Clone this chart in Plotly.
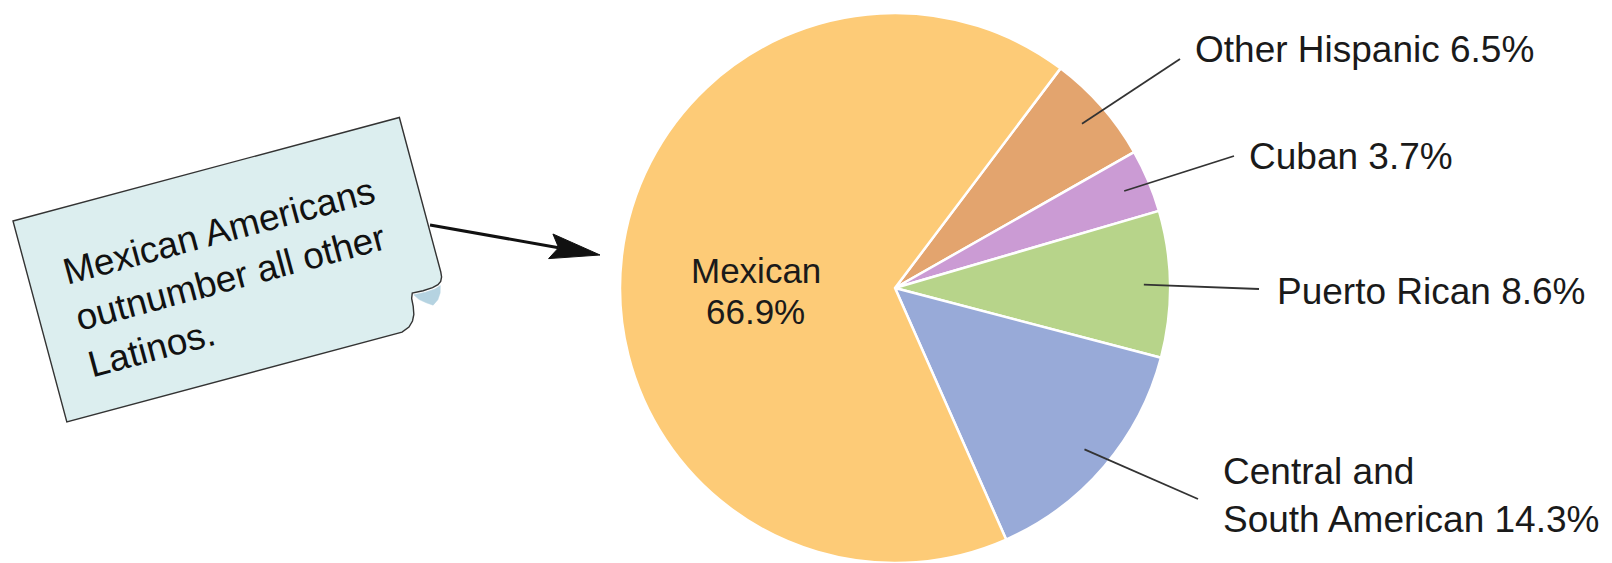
import math
import plotly.graph_objects as go

# ---- data ----
categories = ["Other Hispanic", "Cuban", "Puerto Rican", "Central and South American", "Mexican"]
values = [6.5, 3.7, 8.6, 14.3, 66.9]
label_texts = ["Other Hispanic", "Cuban", "Puerto Rican", "Central and<br>South American", "Mexican"]
colors = ["#E3A46E", "#CB9BD4", "#B7D48A", "#98AAD8", "#FDCB77"]
callout_lines = ["Mexican Americans", "outnumber all other", "Latinos."]

W, H = 1612, 563
TOP = 13
R = (H - TOP) / 2
cx, cy = 895, TOP + R
rotation = 37
FONT = "Liberation Sans, Arial, Helvetica, sans-serif"
FS = 37

fig = go.Figure(go.Pie(
    labels=categories, values=values, sort=False, direction="clockwise",
    rotation=rotation,
    marker=dict(colors=colors, line=dict(color="white", width=2.5)),
    textinfo="none", hoverinfo="label+percent", showlegend=False,
    domain=dict(x=[(cx - R) / W, (cx + R) / W], y=[0, 1 - TOP / H]),
))


def px(x):
    return x / W


def py(y):
    return 1 - y / H


def path(points):
    return "M " + " L ".join(f"{px(x):.5f},{py(y):.5f}" for x, y in points) + " Z"


# outside label positions (pixel): text left x, text center y, leader end x, leader end y
outer = {
    0: (1193, 49, 1180, 59),
    1: (1247, 156, 1234, 156),
    2: (1275, 291, 1259, 289),
    3: (1221, 495, 1198, 499),
}

annotations = []
shapes = []
total = sum(values)
cum = 0.0
for i, v in enumerate(values):
    mid = rotation + 360 * (cum + v / 2) / total
    cum += v
    a = math.radians(mid)
    if i in outer:
        tx, ty, ex, ey = outer[i]
        sx = cx + 0.905 * R * math.sin(a)
        sy = cy - 0.905 * R * math.cos(a)
        shapes.append(dict(type="line", xref="paper", yref="paper",
                           x0=px(sx), y0=py(sy), x1=px(ex), y1=py(ey),
                           line=dict(color="#333333", width=1.8)))
        annotations.append(dict(text=f"{label_texts[i]} {v}%", x=px(tx), y=py(ty),
                                xref="paper", yref="paper", xanchor="left", yanchor="middle",
                                showarrow=False, align="left",
                                font=dict(size=FS, family=FONT, color="#1a1a1a")))
    else:
        for txt, yy in ((label_texts[i], 271), (f"{v}%", 311)):
            annotations.append(dict(text=txt, x=px(755.5), y=py(yy),
                                    xref="paper", yref="paper", xanchor="center", yanchor="middle",
                                    showarrow=False,
                                    font=dict(size=35, family=FONT, color="#1a1a1a")))

# ---- callout note (rotated sticky note with curled corner) ----
ang = math.radians(15)
TLx, TLy = 13, 221
tvec = (math.cos(ang), -math.sin(ang))
dvec = (math.sin(ang), math.cos(ang))


def loc(u, v):
    return (TLx + u * tvec[0] + v * dvec[0], TLy + u * tvec[1] + v * dvec[1])


box_local = [(0, 0), (400, 0), (400, 160), (399.5, 165), (397.5, 169), (394, 171.5),
             (388, 173), (378, 173.5), (367, 173), (365, 178), (364.5, 186),
             (363, 194), (360, 200), (355, 205), (347, 208), (0, 208)]
fold_local = [(368, 175), (380, 175.5), (390, 175), (396, 173), (394, 180),
              (390, 186), (384, 190), (378, 186), (372, 181)]
shapes.append(dict(type="path", xref="paper", yref="paper",
                   path=path([loc(u, v) for u, v in box_local]),
                   fillcolor="#DCEEEF", line=dict(color="#333333", width=1.4)))
shapes.append(dict(type="path", xref="paper", yref="paper",
                   path=path([loc(u, v) for u, v in fold_local]),
                   fillcolor="#B5D3E1", line=dict(color="#B5D3E1", width=0.5)))
tcx, tcy = loc(196, 111)
annotations.append(dict(
    text="<br>".join(callout_lines),
    x=px(tcx), y=py(tcy), xref="paper", yref="paper", xanchor="center", yanchor="middle",
    showarrow=False, textangle=-15, align="left",
    font=dict(size=37, family=FONT, color="#111111"),
))

# ---- arrow ----
sx0, sy0 = 430, 225
tipx, tipy = 600, 255
L = math.hypot(tipx - sx0, tipy - sy0)
ux, uy = (tipx - sx0) / L, (tipy - sy0) / L
nx, ny = -uy, ux
back = (tipx - 50 * ux, tipy - 50 * uy)
notch = (tipx - 42 * ux, tipy - 42 * uy)
shapes.append(dict(type="line", xref="paper", yref="paper",
                   x0=px(sx0), y0=py(sy0), x1=px(notch[0]), y1=py(notch[1]),
                   line=dict(color="#111111", width=3)))
shapes.append(dict(type="path", xref="paper", yref="paper",
                   path=path([(tipx, tipy),
                              (back[0] + 12.5 * nx, back[1] + 12.5 * ny),
                              notch,
                              (back[0] - 12.5 * nx, back[1] - 12.5 * ny)]),
                   fillcolor="#111111", line=dict(color="#111111", width=1)))

fig.update_layout(
    width=W, height=H, margin=dict(l=0, r=0, t=0, b=0),
    paper_bgcolor="white", plot_bgcolor="white",
    annotations=annotations, shapes=shapes,
)
fig.write_html("out.html")
